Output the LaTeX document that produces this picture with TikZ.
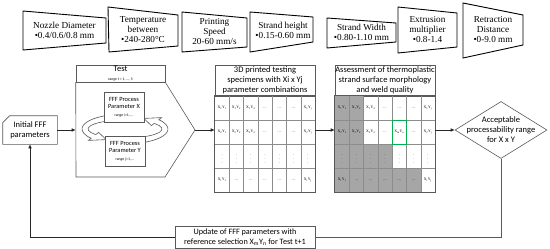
\documentclass[tikz,border=0pt]{standalone}
\usepackage{fontspec}
\setmainfont{Liberation Serif}
\newfontfamily\calibri{Carlito}
\usetikzlibrary{arrows.meta,shapes.geometric,calc}
\definecolor{cellgray}{HTML}{A6A6A6}
\definecolor{selgreen}{HTML}{00B050}
\definecolor{edgegray}{HTML}{595959}
\newcommand{\cellxy}[2]{X\textsubscript{#1}Y\textsubscript{#2}}
\begin{document}
\begin{tikzpicture}[x=1pt,y=-1pt,line width=0.6pt,
  trap/.style={draw=black,line width=0.9pt},
  traptext/.style={font=\fontsize{9.2}{10}\selectfont,align=center,inner sep=0pt},
  flow/.style={draw=edgegray,fill=white,font=\calibri\fontsize{8.5}{10}\selectfont,align=center,inner sep=0pt},
  cell/.style={font=\fontsize{3.8}{4}\selectfont,inner sep=0pt},
  flowarrow/.style={draw=black!85,-{Latex[length=4pt,width=3.5pt]}},
  gridline/.style={draw=black!45,line width=0.4pt}]
\useasboundingbox (0,0) rectangle (550,249);

% parameter ranges
\draw[trap] (23,11) -- (106,18) -- (106,43) -- (23,50) -- cycle;
\node[traptext] (nozzle) at (64.5,30.5) {Nozzle Diameter\\•0.4/0.6/0.8 mm};
\draw[trap] (108,7) -- (178,15) -- (178,46) -- (109,52) -- cycle;
\node[traptext] (temp) at (143,30) {Temperature\\between\\•240-280°C};
\draw[trap] (182,12) -- (247,18) -- (247,47) -- (182,52) -- cycle;
\node[traptext] (speed) at (214.5,31) {Printing\\Speed\\20-60 mm/s};
\draw[trap] (250,12) -- (313,17) -- (313,42) -- (250,52) -- cycle;
\node[traptext] (height) at (283,30) {Strand height\\•0.15-0.60 mm};
\draw[trap] (327,18) -- (396,23) -- (396,42) -- (327,48) -- cycle;
\node[traptext] (width) at (361.5,32) {Strand Width\\•0.80-1.10 mm};
\draw[trap] (398,7) -- (457,13) -- (457,47) -- (398,53) -- cycle;
\node[traptext] (extr) at (427.5,30) {Extrusion\\multiplier\\•0.8-1.4};
\draw[trap] (463,3) -- (523,15) -- (523,45) -- (463,58) -- cycle;
\node[traptext] (retr) at (493,30) {Retraction\\Distance\\•0-9.0 mm};

% initial parameters
\node[flow,draw=none,fill=none,minimum width=54pt,minimum height=28pt] (init) at (30,130) {Initial FFF\\parameters};
\draw[edgegray] ([xshift=7pt]init.north west) -- (init.north east) -- (init.south east)
  -- (init.south west) -- ([yshift=-7pt]init.north west) -- cycle;

% test block
\node[flow,minimum width=89pt,minimum height=17pt] (testhead) at (120.5,73.5)
  {Test\\[-1.5pt]{\fontsize{3.8}{4}\selectfont range t = 1, \dots, 5}};
\draw[edgegray] (testhead.south west) -- (testhead.south east) -- (195,130) coordinate (testtip)
  -- (165,177) -- (76,177) -- (testhead.south west);
\draw[flowarrow] (init.east) -- (init.east -| testhead.west);

% loop arrows
\coordinate (loopc) at (125,129);
\draw[edgegray,fill=white] ($(loopc)+(-115:43 and 15)$) arc[start angle=-115,end angle=-218,x radius=43,y radius=15]
  -- ($(loopc)+(-218:46.5 and 18.5)$) -- ($(loopc)+(-242:40 and 12)$) -- ($(loopc)+(-218:33.5 and 5.5)$)
  -- ($(loopc)+(-218:37 and 9)$) arc[start angle=-218,end angle=-115,x radius=37,y radius=9] -- cycle;
\draw[edgegray,fill=white] ($(loopc)+(-295:43 and 15)$) arc[start angle=-295,end angle=-398,x radius=43,y radius=15]
  -- ($(loopc)+(-398:46.5 and 18.5)$) -- ($(loopc)+(-422:40 and 12)$) -- ($(loopc)+(-398:33.5 and 5.5)$)
  -- ($(loopc)+(-398:37 and 9)$) arc[start angle=-398,end angle=-295,x radius=37,y radius=9] -- cycle;
\node[flow,minimum width=40pt,minimum height=30pt,font=\calibri\fontsize{6.4}{7.5}\selectfont] (parx) at (124,107)
  {FFF Process\\Parameter X\\{\fontsize{3.8}{4}\selectfont range i=1, \dots}};
\node[flow,minimum width=40pt,minimum height=30pt,font=\calibri\fontsize{6.4}{7.5}\selectfont] (pary) at (125,151)
  {FFF Process\\Parameter Y\\{\fontsize{3.8}{4}\selectfont range j=1, \dots}};

% specimen grid
\node[flow,minimum width=100pt,minimum height=31pt] (spechead) at (265,80.5)
  {3D printed testing\\specimens with Xi x Yj\\parameter combinations};
\node[minimum width=100pt,minimum height=96pt,inner sep=0pt] (specgrid) at (265,144) {};

% assessment grid
\node[flow,minimum width=100pt,minimum height=31pt] (assesshead) at (385,80.5)
  {Assessment of thermoplastic\\strand surface morphology\\and weld quality};
\node[minimum width=100pt,minimum height=96pt,inner sep=0pt] (assessgrid) at (385,144) {};
\fill[cellgray] (335,96) rectangle (363.57,144);
\fill[cellgray] (335,144) rectangle (392.14,168);
\fill[cellgray] (335,168) rectangle (420.71,192);

\foreach \gx in {215,335} {
  \foreach \c in {1,...,6}
    \draw[gridline] (\gx+\c*14.2857,96) -- (\gx+\c*14.2857,192);
  \foreach \r in {120,144,168}
    \draw[gridline] (\gx,\r) -- (\gx+100,\r);
  \foreach \c/\t in {1/\cellxy{1}{1},2/\cellxy{1}{2},3/\cellxy{1}{3},4/\dots,5/\dots,6/\dots,7/\cellxy{1}{j}}
    \node[cell] at (\gx+\c*14.2857-7.14,108) {\t};
  \foreach \c/\t in {1/\cellxy{2}{1},2/\cellxy{2}{2},3/\cellxy{2}{3},4/\dots,6/\dots,7/\cellxy{2}{j}}
    \node[cell] at (\gx+\c*14.2857-7.14,132) {\t};
  \foreach \c in {1,...,7}
    \node[cell] at (\gx+\c*14.2857-7.14,156) {$\vdots$};
  \foreach \c/\t in {1/\cellxy{i}{1},2/\dots,3/\dots,4/\dots,5/\dots,6/\dots,7/\cellxy{i}{j}}
    \node[cell] at (\gx+\c*14.2857-7.14,180) {\t};
}
\node[cell] at (215+5*14.2857-7.14,132) {\dots};
\node[cell] at (335+5*14.2857-7.14,132) {\cellxy{m}{n}};
\draw[edgegray] (specgrid.north west) rectangle (specgrid.south east);
\draw[edgegray] (assessgrid.north west) rectangle (assessgrid.south east);
\draw[selgreen,line width=1pt] (392.14,120) rectangle (406.43,144);

% decision
\node[diamond,draw=edgegray,minimum width=92pt,minimum height=57pt,inner sep=0pt] (accept) at (501,130) {};
\node[font=\calibri\fontsize{8.5}{10}\selectfont,align=center] (accepttext) at (accept) {Acceptable\\processability range\\for X x Y};

% connectors
\draw[flowarrow] (testtip) -- (testtip -| specgrid.west);
\draw[flowarrow] (specgrid.east |- testtip) -- (assessgrid.west |- testtip);
\draw[flowarrow] (assessgrid.east |- testtip) -- (accept.west);

% feedback
\node[flow,minimum width=140pt,minimum height=22pt,font=\calibri\fontsize{8.2}{9.5}\selectfont] (update) at (245,237)
  {Update of FFF parameters with\\reference selection X\textsubscript{m}Y\textsubscript{n} for Test t+1};
\draw[edgegray] (accept.south) |- (update.east);
\draw[flowarrow] (update.west) -| (init.south);
\end{tikzpicture}
\end{document}
